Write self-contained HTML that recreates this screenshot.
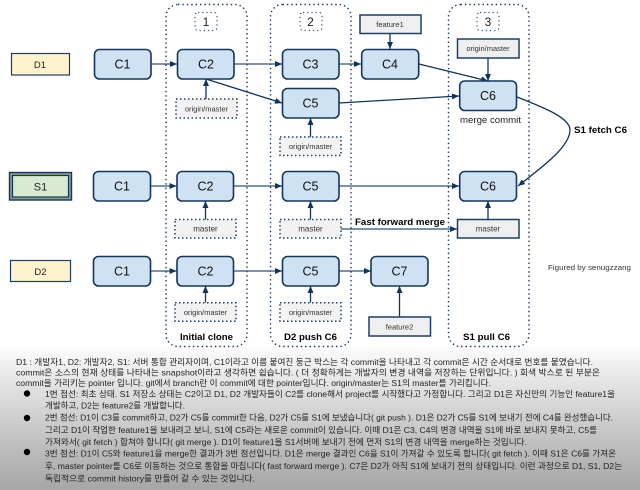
<!DOCTYPE html>
<html lang="ko">
<head>
<meta charset="utf-8">
<title>Git merge diagram</title>
<style>
html,body{margin:0;padding:0;background:#fff;width:640px;height:490px;overflow:hidden}
svg{display:block;filter:blur(.35px)}
text{font-family:"Liberation Sans","Noto Sans CJK KR",sans-serif}
.c{fill:#cfe2f3;stroke:#15365c;stroke-width:1.6}
.ct{font-size:12.5px;fill:#111;text-anchor:middle}
.d{fill:#f2f2f2;stroke:#1c3f66;stroke-width:1.5;stroke-dasharray:1.5 2.5}
.s{fill:#efefef;stroke:#1c3f66;stroke-width:1.5}
.pt{font-size:7.5px;fill:#333;text-anchor:middle}
.r{fill:none;stroke:#15365c;stroke-width:1.4;stroke-dasharray:1.4 3}
.n{fill:#fff;stroke:#34557a;stroke-width:1.2;stroke-dasharray:1.2 3}
.nt{font-size:12px;fill:#222;text-anchor:middle}
.l{stroke:#2f5279;stroke-width:1.3;fill:none;marker-end:url(#a)}
.ld{stroke:#0f3460;stroke-width:1.3;fill:none;marker-end:url(#a)}
.b{font-size:9px;font-weight:bold;fill:#000}
.k{font-size:8.6px;fill:#222}
</style>
</head>
<body>
<svg width="640" height="490" viewBox="0 0 640 490" xmlns="http://www.w3.org/2000/svg">
<defs>
<marker id="a" markerUnits="userSpaceOnUse" markerWidth="8" markerHeight="7" refX="7" refY="3" orient="auto">
<path d="M0 0L7 3L0 6z" fill="#0f3460"/>
</marker>
<linearGradient id="g" x1="0" y1="0" x2="0" y2="1">
<stop offset="0" stop-color="#fdfdfd"/>
<stop offset=".3" stop-color="#e0e0e0"/>
<stop offset=".7" stop-color="#bebebe"/>
<stop offset="1" stop-color="#a6a6a6"/>
</linearGradient>
</defs>

<rect x="0" y="346" width="640" height="144" fill="url(#g)"/>

<rect class="r" x="166" y="4.5" width="81" height="342" rx="12"/>
<rect class="r" x="270.5" y="4.5" width="80.5" height="342" rx="12"/>
<rect class="r" x="448.5" y="4.5" width="80.5" height="342" rx="12"/>

<rect class="n" x="195" y="12.5" width="22" height="18" rx="3"/>
<text class="nt" x="206" y="26">1</text>
<rect class="n" x="300" y="12.5" width="22" height="18" rx="3"/>
<text class="nt" x="310.500" y="26">2</text>
<rect class="n" x="477" y="12.5" width="22" height="18" rx="3"/>
<text class="nt" x="488" y="26">3</text>

<rect x="11.500" y="53.500" width="58" height="21.500" fill="#fff2cc" stroke="#1c3f66" stroke-width="1.200"/>
<text x="40" y="68" font-size="9.500" fill="#222" text-anchor="middle">D1</text>
<rect x="9.500" y="172.500" width="62" height="27.500" fill="#8aa08e" stroke="#15365c" stroke-width="1.400"/>
<rect x="12.500" y="175.500" width="56" height="21.500" fill="#d9ead3" stroke="#15365c" stroke-width="1.200"/>
<text x="40.500" y="190.500" font-size="11" fill="#222" text-anchor="middle">S1</text>
<rect x="10.500" y="260.500" width="60" height="21" fill="#fff2cc" stroke="#1c3f66" stroke-width="1.200"/>
<text x="40.500" y="275" font-size="9.500" fill="#222" text-anchor="middle">D2</text>

<!-- connectors row 1 -->
<line class="l" x1="151" y1="64" x2="177" y2="64"/>
<line class="l" x1="234" y1="64" x2="282" y2="64"/>
<line class="l" x1="339" y1="64" x2="361" y2="64"/>
<line class="ld" x1="206" y1="79" x2="282" y2="103"/>
<line class="ld" x1="206" y1="99" x2="206" y2="79"/>
<line class="ld" x1="310.500" y1="137" x2="310.500" y2="118"/>
<line class="ld" x1="390" y1="33.500" x2="390" y2="49"/>
<line class="ld" x1="419" y1="64" x2="488" y2="81"/>
<line class="ld" x1="339" y1="103" x2="459" y2="96"/>
<line class="ld" x1="488" y1="58" x2="488" y2="81"/>
<path class="ld" d="M517 97C545 108 570 118 570 130C570 146 545 165 518 186"/>

<!-- connectors row 2 -->
<line class="l" x1="150.500" y1="186" x2="176.500" y2="186"/>
<line class="l" x1="233.500" y1="186" x2="282" y2="186"/>
<line class="l" x1="339" y1="186" x2="459" y2="186"/>
<line class="ld" x1="205.500" y1="219.500" x2="205.500" y2="201"/>
<line class="ld" x1="310.500" y1="219.500" x2="310.500" y2="201"/>
<line class="ld" x1="488" y1="219.500" x2="488" y2="201"/>
<line class="l" x1="341" y1="229" x2="457" y2="229"/>

<!-- connectors row 3 -->
<line class="l" x1="150.500" y1="271" x2="176.500" y2="271"/>
<line class="l" x1="233.500" y1="271" x2="282" y2="271"/>
<line class="l" x1="339" y1="271" x2="371" y2="271"/>
<line class="ld" x1="205.500" y1="302.500" x2="205.500" y2="286"/>
<line class="ld" x1="310.500" y1="302.500" x2="310.500" y2="286"/>
<line class="ld" x1="399.500" y1="317" x2="399.500" y2="286"/>

<!-- commits -->
<rect class="c" x="94.500" y="49.500" width="56.500" height="29.500" rx="5"/><text class="ct" x="122.500" y="68.500">C1</text>
<rect class="c" x="177.500" y="49.500" width="56.500" height="29.500" rx="5"/><text class="ct" x="206" y="68.500">C2</text>
<rect class="c" x="282.500" y="49.500" width="56.500" height="29.500" rx="5"/><text class="ct" x="310.500" y="68.500">C3</text>
<rect class="c" x="361.700" y="49.500" width="57" height="29.500" rx="5"/><text class="ct" x="390" y="68.500">C4</text>
<rect class="c" x="282.500" y="88.500" width="56.500" height="29.500" rx="5"/><text class="ct" x="310.500" y="107.500">C5</text>
<rect class="c" x="459.700" y="81" width="56.800" height="29.500" rx="5"/><text class="ct" x="488" y="100">C6</text>

<rect class="c" x="93.500" y="171.500" width="57" height="29.500" rx="5"/><text class="ct" x="122" y="190.500">C1</text>
<rect class="c" x="177" y="171.500" width="56.500" height="29.500" rx="5"/><text class="ct" x="205.500" y="190.500">C2</text>
<rect class="c" x="282.500" y="171.500" width="56.500" height="29.500" rx="5"/><text class="ct" x="310.500" y="190.500">C5</text>
<rect class="c" x="459.700" y="171.500" width="56.800" height="29.500" rx="5"/><text class="ct" x="488" y="190.500">C6</text>

<rect class="c" x="93.500" y="256.500" width="57" height="29.500" rx="5"/><text class="ct" x="122" y="275.500">C1</text>
<rect class="c" x="177" y="256.500" width="56.500" height="29.500" rx="5"/><text class="ct" x="205.500" y="275.500">C2</text>
<rect class="c" x="282.500" y="256.500" width="56.500" height="29.500" rx="5"/><text class="ct" x="310.500" y="275.500">C5</text>
<rect class="c" x="371" y="256.500" width="57" height="29.500" rx="5"/><text class="ct" x="399.500" y="275.500">C7</text>

<!-- pointers -->
<rect class="d" x="176" y="99" width="61" height="19"/><text class="pt" x="206.500" y="111.500">origin/master</text>
<rect class="d" x="280" y="137" width="61" height="18.500"/><text class="pt" x="310.500" y="149">origin/master</text>
<rect class="s" x="360" y="15" width="61" height="18.500"/><text class="pt" x="390" y="27">feature1</text>
<rect class="s" x="457.500" y="39" width="61.500" height="19"/><text class="pt" x="488" y="51">origin/master</text>
<rect class="d" x="175" y="219.500" width="61" height="18.500"/><text class="pt" x="205.500" y="231.500" style="font-size:8px">master</text>
<rect class="d" x="280" y="219.500" width="61" height="18.500"/><text class="pt" x="310.500" y="231.500" style="font-size:8px">master</text>
<rect class="s" x="457.500" y="219.500" width="61.500" height="18.500"/><text class="pt" x="488" y="231.500" style="font-size:8px">master</text>
<rect class="d" x="175" y="302.700" width="61" height="18.500"/><text class="pt" x="205.500" y="315">origin/master</text>
<rect class="d" x="280" y="302.700" width="61" height="18.500"/><text class="pt" x="310.500" y="315">origin/master</text>
<rect class="s" x="369" y="317" width="61.500" height="19"/><text class="pt" x="399.500" y="329.500">feature2</text>

<!-- labels -->
<text x="460" y="123" font-size="8.800" fill="#222" textLength="61" lengthAdjust="spacingAndGlyphs">merge commit</text>
<text class="b" x="574" y="133" textLength="53" lengthAdjust="spacingAndGlyphs">S1 fetch C6</text>
<text class="b" x="355" y="225" textLength="90" lengthAdjust="spacingAndGlyphs">Fast forward merge</text>
<text x="548" y="270" font-size="7.500" fill="#333" textLength="83" lengthAdjust="spacingAndGlyphs">Figured by senugzzang</text>
<text class="b" x="180" y="340" textLength="53" lengthAdjust="spacingAndGlyphs">Initial clone</text>
<text class="b" x="284" y="340" textLength="53" lengthAdjust="spacingAndGlyphs">D2 push C6</text>
<text class="b" x="463" y="340" textLength="47" lengthAdjust="spacingAndGlyphs">S1 pull C6</text>

<!-- description -->
<text class="k" x="16" y="365" textLength="577" lengthAdjust="spacingAndGlyphs">D1 : 개발자1, D2: 개발자2, S1: 서버 통합 관리자이며, C1이라고 이름 붙여진 둥근 박스는 각 commit을 나타내고 각 commit은 시간 순서대로 번호를 붙였습니다.</text>
<text class="k" x="16" y="375.500" textLength="584" lengthAdjust="spacingAndGlyphs">commit은 소스의 현재 상태를 나타내는 snapshot이라고 생각하면 쉽습니다. ( 더 정확하게는 개발자의 변경 내역을 저장하는 단위입니다. ) 회색 박스로 된 부분은</text>
<text class="k" x="16" y="386" textLength="475" lengthAdjust="spacingAndGlyphs">commit을 가리키는 pointer 입니다. git에서 branch란 이 commit에 대한 pointer입니다. origin/master는 S1의 master를 가리킵니다.</text>
<circle cx="27" cy="393.500" r="3.200" fill="#000"/>
<text class="k" x="45" y="397" textLength="570" lengthAdjust="spacingAndGlyphs">1번 점선: 최초 상태. S1 저장소 상태는 C2이고 D1, D2 개발자들이 C2를 clone해서 project를 시작했다고 가정합니다. 그리고 D1은 자신만의 기능인 feature1을</text>
<text class="k" x="45" y="408.500" textLength="140" lengthAdjust="spacingAndGlyphs">개발하고, D2는 feature2를 개발합니다.</text>
<circle cx="27" cy="418" r="3.200" fill="#000"/>
<text class="k" x="45" y="420.500" textLength="568" lengthAdjust="spacingAndGlyphs">2번 점선: D1이 C3를 commit하고, D2가 C5를 commit한 다음, D2가 C5를 S1에 보냈습니다( git push ). D1은 D2가 C5를 S1에 보내기 전에 C4를 완성했습니다.</text>
<text class="k" x="45" y="433" textLength="552" lengthAdjust="spacingAndGlyphs">그리고 D1이 작업한 feature1을 보내려고 보니, S1에 C5라는 새로운 commit이 있습니다. 이때 D1은 C3, C4의 변경 내역을 S1에 바로 보내지 못하고, C5를</text>
<text class="k" x="45" y="445" textLength="482" lengthAdjust="spacingAndGlyphs">가져와서( git fetch ) 합쳐야 합니다( git merge ). D1이 feature1을 S1서버에 보내기 전에 먼저 S1의 변경 내역을 merge하는 것입니다.</text>
<circle cx="27" cy="452" r="3.200" fill="#000"/>
<text class="k" x="45" y="456.500" textLength="571" lengthAdjust="spacingAndGlyphs">3번 점선: D1이 C5와 feature1을 merge한 결과가 3번 점선입니다. D1은 merge 결과인 C6을 S1이 가져갈 수 있도록 합니다( git fetch ). 이때 S1은 C6를 가져온</text>
<text class="k" x="45" y="469" textLength="577" lengthAdjust="spacingAndGlyphs">후, master pointer를 C6로 이동하는 것으로 통합을 마칩니다( fast forward merge ). C7은 D2가 아직 S1에 보내기 전의 상태입니다. 이런 과정으로 D1, S1, D2는</text>
<text class="k" x="45" y="481.500" textLength="210" lengthAdjust="spacingAndGlyphs">독립적으로 commit history를 만들어 갈 수 있는 것입니다.</text>
</svg>
</body>
</html>
